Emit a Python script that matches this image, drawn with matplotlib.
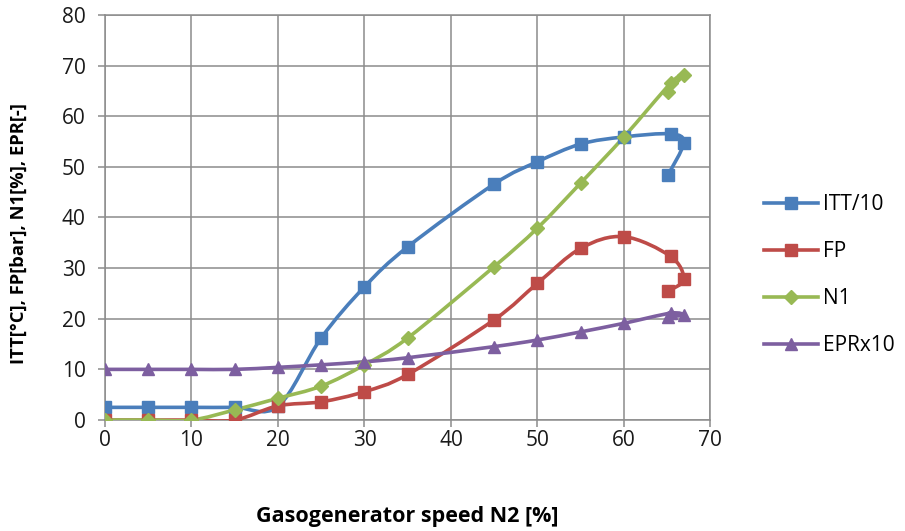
import numpy as np
import matplotlib
matplotlib.use("Agg")
import matplotlib.pyplot as plt
from matplotlib.path import Path
from matplotlib.patches import PathPatch
from matplotlib.lines import Line2D

# data
n2 = [0, 5, 10, 15, 20, 25, 30, 35, 45, 50, 55, 60, 65.4, 66.9, 65.1]
itt10 = [2.5, 2.5, 2.5, 2.5, 2.7, 16.2, 26.3, 34.2, 46.6, 51.0, 54.5, 55.9, 56.5, 54.7, 48.4]
fp = [0, 0, 0, 0, 2.8, 3.6, 5.6, 9.0, 19.8, 27.0, 33.9, 36.2, 32.3, 27.8, 25.4]
n1 = [0, 0, 0, 2.0, 4.3, 6.7, 10.9, 16.2, 30.3, 37.9, 46.8, 55.9, 66.5, 68.2, 64.8]
epr10 = [10, 10, 10, 10, 10.4, 10.9, 11.5, 12.3, 14.5, 15.8, 17.4, 19.1, 21.1, 20.7, 20.4]

series = [
    ("ITT/10", itt10, "#4A7EBB", "s", 8.5),
    ("FP", fp, "#BE4B48", "s", 8.5),
    ("N1", n1, "#98B954", "D", 7),
    ("EPRx10", epr10, "#7D5FA0", "^", 9),
]


def smooth_path(x, y):
    # Excel-style smoothed line: cubic Bezier with Catmull-Rom control points
    pts = np.column_stack([x, y]).astype(float)
    verts = [pts[0]]
    codes = [Path.MOVETO]
    n = len(pts)
    for i in range(n - 1):
        p0 = pts[i - 1] if i > 0 else pts[i]
        p1 = pts[i]
        p2 = pts[i + 1]
        p3 = pts[i + 2] if i + 2 < n else pts[i + 1]
        c1 = p1 + (p2 - p0) / 6.0
        c2 = p2 - (p3 - p1) / 6.0
        verts += [c1, c2, p2]
        codes += [Path.CURVE4] * 3
    return Path(verts, codes)


plt.rcParams['font.family'] = ['Open Sans', 'DejaVu Sans']

fig = plt.figure(figsize=(9.05, 5.31), dpi=100)
ax = fig.add_axes([0.116, 0.209, 0.669, 0.763])

handles = []
for name, vals, col, mk, ms in series:
    patch = PathPatch(smooth_path(n2, vals), facecolor="none", edgecolor=col,
                      lw=2.6, capstyle="round", joinstyle="round", zorder=3)
    ax.add_patch(patch)
    ax.plot(n2, vals, linestyle="none", marker=mk, ms=ms, color=col,
            markeredgecolor=col, zorder=4)
    handles.append(Line2D([], [], color=col, lw=2.6, marker=mk, ms=ms,
                          markeredgecolor=col))

ax.set_xlim(0, 70)
ax.set_ylim(0, 80)
ax.set_xticks(np.arange(0, 71, 10))
ax.set_yticks(np.arange(0, 81, 10))
ax.grid(True, color="#8c8c8c", lw=1.1)
ax.set_axisbelow(True)
for s in ax.spines.values():
    s.set_color("#8c8c8c")
    s.set_linewidth(1.1)
ax.tick_params(colors="#8c8c8c", labelcolor="#1a1a1a", labelsize=15,
               length=5, width=1.1)
ax.tick_params(axis="y", pad=9)
ax.tick_params(axis="x", pad=2)

ax.set_xlabel("Gasogenerator speed N2 [%]", fontsize=15.5, fontweight="bold")
ax.set_ylabel("ITT[°C], FP[bar], N1[%], EPR[-]", fontsize=13.2,
              fontweight="bold")
ax.xaxis.set_label_coords(0.5, -0.212)
ax.yaxis.set_label_coords(-0.128, 0.46)

fig.legend(handles, [s[0] for s in series], loc="center left",
           bbox_to_anchor=(0.823, 0.482), frameon=False, fontsize=15,
           labelspacing=1.25, handlelength=2.6, handletextpad=0.25)

fig.savefig("out.png", dpi=100)
